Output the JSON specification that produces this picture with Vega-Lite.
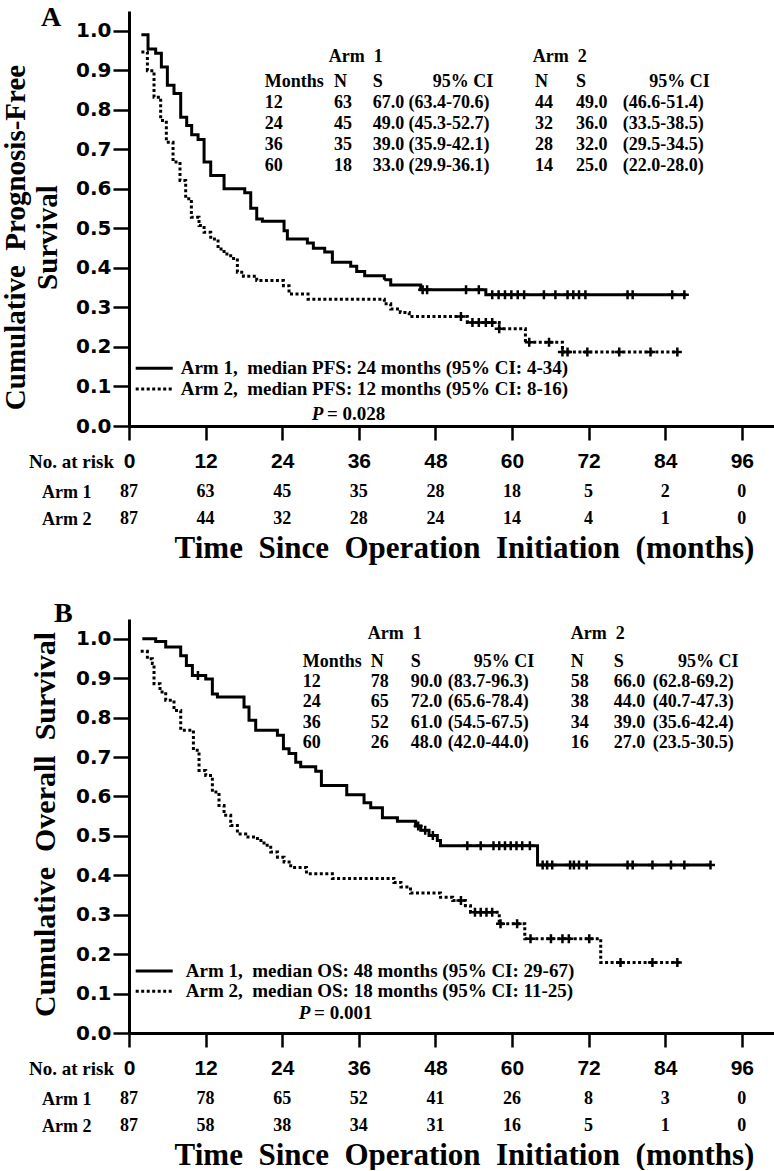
{
"$schema": "https://vega.github.io/schema/vega-lite/v6.json",
"background": "white",
"padding": {"left": 0, "top": 4, "right": 0, "bottom": 0},
"autosize": {"type": "pad"},
"config": {
  "view": {"stroke": null},
  "axis": {"grid": false, "domainColor": "black", "tickColor": "black", "labelColor": "black", "titleColor": "black"},
  "text": {"font": "Liberation Serif", "fontWeight": "bold", "fontSize": 18, "align": "left", "baseline": "middle", "color": "black"}
},
"datasets": {
  "km": [
    {"panel":"A","arm":"Arm 1","month":1.94,"surv":0.990},{"panel":"A","arm":"Arm 1","month":2.98,"surv":0.954},{"panel":"A","arm":"Arm 1","month":4.18,"surv":0.943},{"panel":"A","arm":"Arm 1","month":5.07,"surv":0.908},{"panel":"A","arm":"Arm 1","month":6.01,"surv":0.862},{"panel":"A","arm":"Arm 1","month":7.05,"surv":0.841},{"panel":"A","arm":"Arm 1","month":8.10,"surv":0.781},{"panel":"A","arm":"Arm 1","month":9.04,"surv":0.760},{"panel":"A","arm":"Arm 1","month":9.82,"surv":0.737},{"panel":"A","arm":"Arm 1","month":10.82,"surv":0.725},{"panel":"A","arm":"Arm 1","month":11.76,"surv":0.668},{"panel":"A","arm":"Arm 1","month":12.80,"surv":0.634},{"panel":"A","arm":"Arm 1","month":14.89,"surv":0.600},{"panel":"A","arm":"Arm 1","month":18.13,"surv":0.590},{"panel":"A","arm":"Arm 1","month":19.07,"surv":0.551},{"panel":"A","arm":"Arm 1","month":20.01,"surv":0.524},{"panel":"A","arm":"Arm 1","month":20.89,"surv":0.518},{"panel":"A","arm":"Arm 1","month":24.29,"surv":0.494},{"panel":"A","arm":"Arm 1","month":24.81,"surv":0.473},{"panel":"A","arm":"Arm 1","month":27.94,"surv":0.463},{"panel":"A","arm":"Arm 1","month":28.88,"surv":0.450},{"panel":"A","arm":"Arm 1","month":30.66,"surv":0.440},{"panel":"A","arm":"Arm 1","month":31.86,"surv":0.414},{"panel":"A","arm":"Arm 1","month":34.73,"surv":0.404},{"panel":"A","arm":"Arm 1","month":35.67,"surv":0.391},{"panel":"A","arm":"Arm 1","month":36.92,"surv":0.380},{"panel":"A","arm":"Arm 1","month":40.0,"surv":0.370},{"panel":"A","arm":"Arm 1","month":41.0,"surv":0.357},{"panel":"A","arm":"Arm 1","month":45.7,"surv":0.345},{"panel":"A","arm":"Arm 1","month":55.9,"surv":0.332},{"panel":"A","arm":"Arm 1","month":87.3,"surv":0.332},
    {"panel":"A","arm":"Arm 2","month":1.94,"surv":0.946},{"panel":"A","arm":"Arm 2","month":2.88,"surv":0.899},{"panel":"A","arm":"Arm 2","month":3.92,"surv":0.832},{"panel":"A","arm":"Arm 2","month":4.96,"surv":0.773},{"panel":"A","arm":"Arm 2","month":5.85,"surv":0.718},{"panel":"A","arm":"Arm 2","month":6.9,"surv":0.668},{"panel":"A","arm":"Arm 2","month":7.99,"surv":0.621},{"panel":"A","arm":"Arm 2","month":8.88,"surv":0.575},{"panel":"A","arm":"Arm 2","month":9.77,"surv":0.528},{"panel":"A","arm":"Arm 2","month":10.97,"surv":0.507},{"panel":"A","arm":"Arm 2","month":11.76,"surv":0.490},{"panel":"A","arm":"Arm 2","month":12.80,"surv":0.473},{"panel":"A","arm":"Arm 2","month":13.95,"surv":0.448},{"panel":"A","arm":"Arm 2","month":14.89,"surv":0.435},{"panel":"A","arm":"Arm 2","month":15.93,"surv":0.424},{"panel":"A","arm":"Arm 2","month":16.98,"surv":0.389},{"panel":"A","arm":"Arm 2","month":17.92,"surv":0.379},{"panel":"A","arm":"Arm 2","month":20.01,"surv":0.368},{"panel":"A","arm":"Arm 2","month":24.19,"surv":0.355},{"panel":"A","arm":"Arm 2","month":25.07,"surv":0.334},{"panel":"A","arm":"Arm 2","month":28.05,"surv":0.321},{"panel":"A","arm":"Arm 2","month":40.0,"surv":0.309},{"panel":"A","arm":"Arm 2","month":41.0,"surv":0.296},{"panel":"A","arm":"Arm 2","month":42.5,"surv":0.287},{"panel":"A","arm":"Arm 2","month":43.9,"surv":0.277},{"panel":"A","arm":"Arm 2","month":53.0,"surv":0.262},{"panel":"A","arm":"Arm 2","month":58.0,"surv":0.246},{"panel":"A","arm":"Arm 2","month":62.1,"surv":0.212},{"panel":"A","arm":"Arm 2","month":67.9,"surv":0.187},{"panel":"A","arm":"Arm 2","month":85.9,"surv":0.187},
    {"panel":"B","arm":"Arm 1","month":2.09,"surv":1.0},{"panel":"B","arm":"Arm 1","month":4.18,"surv":0.993},{"panel":"B","arm":"Arm 1","month":5.75,"surv":0.979},{"panel":"B","arm":"Arm 1","month":8.10,"surv":0.957},{"panel":"B","arm":"Arm 1","month":8.99,"surv":0.932},{"panel":"B","arm":"Arm 1","month":9.93,"surv":0.907},{"panel":"B","arm":"Arm 1","month":12.02,"surv":0.898},{"panel":"B","arm":"Arm 1","month":13.06,"surv":0.860},{"panel":"B","arm":"Arm 1","month":13.85,"surv":0.852},{"panel":"B","arm":"Arm 1","month":18.02,"surv":0.827},{"panel":"B","arm":"Arm 1","month":18.80,"surv":0.793},{"panel":"B","arm":"Arm 1","month":19.85,"surv":0.768},{"panel":"B","arm":"Arm 1","month":23.25,"surv":0.755},{"panel":"B","arm":"Arm 1","month":24.19,"surv":0.721},{"panel":"B","arm":"Arm 1","month":25.07,"surv":0.709},{"panel":"B","arm":"Arm 1","month":26.12,"surv":0.687},{"panel":"B","arm":"Arm 1","month":26.90,"surv":0.675},{"panel":"B","arm":"Arm 1","month":29.25,"surv":0.664},{"panel":"B","arm":"Arm 1","month":30.14,"surv":0.628},{"panel":"B","arm":"Arm 1","month":34.11,"surv":0.604},{"panel":"B","arm":"Arm 1","month":36.82,"surv":0.584},{"panel":"B","arm":"Arm 1","month":37.87,"surv":0.571},{"panel":"B","arm":"Arm 1","month":39.7,"surv":0.546},{"panel":"B","arm":"Arm 1","month":42.05,"surv":0.537},{"panel":"B","arm":"Arm 1","month":44.9,"surv":0.525},{"panel":"B","arm":"Arm 1","month":45.7,"surv":0.514},{"panel":"B","arm":"Arm 1","month":47.0,"surv":0.501},{"panel":"B","arm":"Arm 1","month":48.3,"surv":0.488},{"panel":"B","arm":"Arm 1","month":48.8,"surv":0.475},{"panel":"B","arm":"Arm 1","month":64.0,"surv":0.426},{"panel":"B","arm":"Arm 1","month":91.1,"surv":0.426},
    {"panel":"B","arm":"Arm 2","month":1.83,"surv":0.968},{"panel":"B","arm":"Arm 2","month":2.88,"surv":0.949},{"panel":"B","arm":"Arm 2","month":3.66,"surv":0.937},{"panel":"B","arm":"Arm 2","month":3.92,"surv":0.886},{"panel":"B","arm":"Arm 2","month":4.86,"surv":0.865},{"panel":"B","arm":"Arm 2","month":5.75,"surv":0.844},{"panel":"B","arm":"Arm 2","month":7.05,"surv":0.818},{"panel":"B","arm":"Arm 2","month":8.10,"surv":0.768},{"panel":"B","arm":"Arm 2","month":10.09,"surv":0.717},{"panel":"B","arm":"Arm 2","month":10.97,"surv":0.666},{"panel":"B","arm":"Arm 2","month":12.02,"surv":0.653},{"panel":"B","arm":"Arm 2","month":13.06,"surv":0.611},{"panel":"B","arm":"Arm 2","month":14.10,"surv":0.577},{"panel":"B","arm":"Arm 2","month":14.89,"surv":0.552},{"panel":"B","arm":"Arm 2","month":15.93,"surv":0.526},{"panel":"B","arm":"Arm 2","month":16.98,"surv":0.505},{"panel":"B","arm":"Arm 2","month":18.28,"surv":0.497},{"panel":"B","arm":"Arm 2","month":20.12,"surv":0.488},{"panel":"B","arm":"Arm 2","month":21.15,"surv":0.476},{"panel":"B","arm":"Arm 2","month":22.20,"surv":0.459},{"panel":"B","arm":"Arm 2","month":23.25,"surv":0.446},{"panel":"B","arm":"Arm 2","month":24.29,"surv":0.434},{"panel":"B","arm":"Arm 2","month":25.33,"surv":0.420},{"panel":"B","arm":"Arm 2","month":27.8,"surv":0.404},{"panel":"B","arm":"Arm 2","month":31.86,"surv":0.392},{"panel":"B","arm":"Arm 2","month":41.5,"surv":0.382},{"panel":"B","arm":"Arm 2","month":42.6,"surv":0.370},{"panel":"B","arm":"Arm 2","month":44.1,"surv":0.355},{"panel":"B","arm":"Arm 2","month":48.8,"surv":0.344},{"panel":"B","arm":"Arm 2","month":50.7,"surv":0.336},{"panel":"B","arm":"Arm 2","month":52.7,"surv":0.323},{"panel":"B","arm":"Arm 2","month":53.5,"surv":0.306},{"panel":"B","arm":"Arm 2","month":58.0,"surv":0.277},{"panel":"B","arm":"Arm 2","month":62.0,"surv":0.239},{"panel":"B","arm":"Arm 2","month":73.9,"surv":0.179},{"panel":"B","arm":"Arm 2","month":86.4,"surv":0.179}
  ],
  "cens": [
    {"panel":"A","arm":"Arm 1","month":46.0,"surv":0.345},{"panel":"A","arm":"Arm 1","month":46.7,"surv":0.345},{"panel":"A","arm":"Arm 1","month":52.8,"surv":0.345},{"panel":"A","arm":"Arm 1","month":54.8,"surv":0.345},
    {"panel":"A","arm":"Arm 1","month":56.9,"surv":0.332},{"panel":"A","arm":"Arm 1","month":57.9,"surv":0.332},{"panel":"A","arm":"Arm 1","month":58.9,"surv":0.332},{"panel":"A","arm":"Arm 1","month":59.9,"surv":0.332},{"panel":"A","arm":"Arm 1","month":60.9,"surv":0.332},{"panel":"A","arm":"Arm 1","month":61.9,"surv":0.332},{"panel":"A","arm":"Arm 1","month":65.0,"surv":0.332},{"panel":"A","arm":"Arm 1","month":66.8,"surv":0.332},{"panel":"A","arm":"Arm 1","month":68.7,"surv":0.332},{"panel":"A","arm":"Arm 1","month":69.6,"surv":0.332},{"panel":"A","arm":"Arm 1","month":70.5,"surv":0.332},{"panel":"A","arm":"Arm 1","month":71.5,"surv":0.332},{"panel":"A","arm":"Arm 1","month":78.1,"surv":0.332},{"panel":"A","arm":"Arm 1","month":78.9,"surv":0.332},{"panel":"A","arm":"Arm 1","month":85.1,"surv":0.332},{"panel":"A","arm":"Arm 1","month":87.0,"surv":0.332},
    {"panel":"A","arm":"Arm 2","month":52.0,"surv":0.277},{"panel":"A","arm":"Arm 2","month":53.8,"surv":0.262},{"panel":"A","arm":"Arm 2","month":54.8,"surv":0.262},{"panel":"A","arm":"Arm 2","month":55.9,"surv":0.262},{"panel":"A","arm":"Arm 2","month":56.9,"surv":0.262},{"panel":"A","arm":"Arm 2","month":58.0,"surv":0.246},{"panel":"A","arm":"Arm 2","month":62.7,"surv":0.212},{"panel":"A","arm":"Arm 2","month":65.8,"surv":0.212},{"panel":"A","arm":"Arm 2","month":67.9,"surv":0.187},{"panel":"A","arm":"Arm 2","month":68.7,"surv":0.187},{"panel":"A","arm":"Arm 2","month":71.8,"surv":0.187},{"panel":"A","arm":"Arm 2","month":76.8,"surv":0.187},{"panel":"A","arm":"Arm 2","month":81.7,"surv":0.187},{"panel":"A","arm":"Arm 2","month":85.9,"surv":0.187},
    {"panel":"B","arm":"Arm 1","month":10.8,"surv":0.907},{"panel":"B","arm":"Arm 1","month":45.3,"surv":0.525},{"panel":"B","arm":"Arm 1","month":46.4,"surv":0.514},{"panel":"B","arm":"Arm 1","month":47.6,"surv":0.501},
    {"panel":"B","arm":"Arm 1","month":53.0,"surv":0.475},{"panel":"B","arm":"Arm 1","month":55.1,"surv":0.475},{"panel":"B","arm":"Arm 1","month":57.1,"surv":0.475},{"panel":"B","arm":"Arm 1","month":58.0,"surv":0.475},{"panel":"B","arm":"Arm 1","month":58.9,"surv":0.475},{"panel":"B","arm":"Arm 1","month":59.8,"surv":0.475},{"panel":"B","arm":"Arm 1","month":60.7,"surv":0.475},{"panel":"B","arm":"Arm 1","month":61.6,"surv":0.475},{"panel":"B","arm":"Arm 1","month":62.8,"surv":0.475},
    {"panel":"B","arm":"Arm 1","month":64.8,"surv":0.426},{"panel":"B","arm":"Arm 1","month":65.5,"surv":0.426},{"panel":"B","arm":"Arm 1","month":66.3,"surv":0.426},{"panel":"B","arm":"Arm 1","month":69.1,"surv":0.426},{"panel":"B","arm":"Arm 1","month":69.7,"surv":0.426},{"panel":"B","arm":"Arm 1","month":70.5,"surv":0.426},{"panel":"B","arm":"Arm 1","month":71.7,"surv":0.426},{"panel":"B","arm":"Arm 1","month":78.1,"surv":0.426},{"panel":"B","arm":"Arm 1","month":78.9,"surv":0.426},{"panel":"B","arm":"Arm 1","month":82.0,"surv":0.426},{"panel":"B","arm":"Arm 1","month":84.9,"surv":0.426},{"panel":"B","arm":"Arm 1","month":87.0,"surv":0.426},{"panel":"B","arm":"Arm 1","month":91.1,"surv":0.426},
    {"panel":"B","arm":"Arm 2","month":52.0,"surv":0.336},{"panel":"B","arm":"Arm 2","month":54.2,"surv":0.306},{"panel":"B","arm":"Arm 2","month":55.1,"surv":0.306},{"panel":"B","arm":"Arm 2","month":56.0,"surv":0.306},{"panel":"B","arm":"Arm 2","month":56.9,"surv":0.306},{"panel":"B","arm":"Arm 2","month":58.2,"surv":0.277},{"panel":"B","arm":"Arm 2","month":60.8,"surv":0.277},{"panel":"B","arm":"Arm 2","month":62.9,"surv":0.239},{"panel":"B","arm":"Arm 2","month":66.1,"surv":0.239},{"panel":"B","arm":"Arm 2","month":67.9,"surv":0.239},{"panel":"B","arm":"Arm 2","month":68.9,"surv":0.239},{"panel":"B","arm":"Arm 2","month":72.1,"surv":0.239},{"panel":"B","arm":"Arm 2","month":77.0,"surv":0.179},{"panel":"B","arm":"Arm 2","month":82.0,"surv":0.179},{"panel":"B","arm":"Arm 2","month":85.9,"surv":0.179}
  ],
  "risk": [
    {"panel":"A","arm":"Arm 1","month":0,"n":87},{"panel":"A","arm":"Arm 1","month":12,"n":63},{"panel":"A","arm":"Arm 1","month":24,"n":45},{"panel":"A","arm":"Arm 1","month":36,"n":35},{"panel":"A","arm":"Arm 1","month":48,"n":28},{"panel":"A","arm":"Arm 1","month":60,"n":18},{"panel":"A","arm":"Arm 1","month":72,"n":5},{"panel":"A","arm":"Arm 1","month":84,"n":2},{"panel":"A","arm":"Arm 1","month":96,"n":0},
    {"panel":"A","arm":"Arm 2","month":0,"n":87},{"panel":"A","arm":"Arm 2","month":12,"n":44},{"panel":"A","arm":"Arm 2","month":24,"n":32},{"panel":"A","arm":"Arm 2","month":36,"n":28},{"panel":"A","arm":"Arm 2","month":48,"n":24},{"panel":"A","arm":"Arm 2","month":60,"n":14},{"panel":"A","arm":"Arm 2","month":72,"n":4},{"panel":"A","arm":"Arm 2","month":84,"n":1},{"panel":"A","arm":"Arm 2","month":96,"n":0},
    {"panel":"B","arm":"Arm 1","month":0,"n":87},{"panel":"B","arm":"Arm 1","month":12,"n":78},{"panel":"B","arm":"Arm 1","month":24,"n":65},{"panel":"B","arm":"Arm 1","month":36,"n":52},{"panel":"B","arm":"Arm 1","month":48,"n":41},{"panel":"B","arm":"Arm 1","month":60,"n":26},{"panel":"B","arm":"Arm 1","month":72,"n":8},{"panel":"B","arm":"Arm 1","month":84,"n":3},{"panel":"B","arm":"Arm 1","month":96,"n":0},
    {"panel":"B","arm":"Arm 2","month":0,"n":87},{"panel":"B","arm":"Arm 2","month":12,"n":58},{"panel":"B","arm":"Arm 2","month":24,"n":38},{"panel":"B","arm":"Arm 2","month":36,"n":34},{"panel":"B","arm":"Arm 2","month":48,"n":31},{"panel":"B","arm":"Arm 2","month":60,"n":16},{"panel":"B","arm":"Arm 2","month":72,"n":5},{"panel":"B","arm":"Arm 2","month":84,"n":1},{"panel":"B","arm":"Arm 2","month":96,"n":0}
  ],
  "tab": [
    {"panel":"A","line":"arm","Months":"","N1":"Arm\u00a0 1","S1":"","CI1":"","N2":"Arm\u00a0 2","S2":"","CI2":""},
    {"panel":"A","line":"hdr","Months":"Months","N1":"N","S1":"S","CI1":"95% CI","N2":"N","S2":"S","CI2":"95% CI"},
    {"panel":"A","line":"12","Months":"12","N1":"63","S1":"67.0","CI1":"(63.4-70.6)","N2":"44","S2":"49.0","CI2":"(46.6-51.4)"},
    {"panel":"A","line":"24","Months":"24","N1":"45","S1":"49.0","CI1":"(45.3-52.7)","N2":"32","S2":"36.0","CI2":"(33.5-38.5)"},
    {"panel":"A","line":"36","Months":"36","N1":"35","S1":"39.0","CI1":"(35.9-42.1)","N2":"28","S2":"32.0","CI2":"(29.5-34.5)"},
    {"panel":"A","line":"60","Months":"60","N1":"18","S1":"33.0","CI1":"(29.9-36.1)","N2":"14","S2":"25.0","CI2":"(22.0-28.0)"},
    {"panel":"B","line":"arm","Months":"","N1":"Arm\u00a0 1","S1":"","CI1":"","N2":"Arm\u00a0 2","S2":"","CI2":""},
    {"panel":"B","line":"hdr","Months":"Months","N1":"N","S1":"S","CI1":"95% CI","N2":"N","S2":"S","CI2":"95% CI"},
    {"panel":"B","line":"12","Months":"12","N1":"78","S1":"90.0","CI1":"(83.7-96.3)","N2":"58","S2":"66.0","CI2":"(62.8-69.2)"},
    {"panel":"B","line":"24","Months":"24","N1":"65","S1":"72.0","CI1":"(65.6-78.4)","N2":"38","S2":"44.0","CI2":"(40.7-47.3)"},
    {"panel":"B","line":"36","Months":"36","N1":"52","S1":"61.0","CI1":"(54.5-67.5)","N2":"34","S2":"39.0","CI2":"(35.6-42.4)"},
    {"panel":"B","line":"60","Months":"60","N1":"26","S1":"48.0","CI1":"(42.0-44.0)","N2":"16","S2":"27.0","CI2":"(23.5-30.5)"}
  ],
  "leg": [
    {"panel":"A","line":"leg1","arm":"Arm 1","label":"Arm 1,\u00a0 median PFS: 24 months (95% CI: 4-34)"},
    {"panel":"A","line":"leg2","arm":"Arm 2","label":"Arm 2,\u00a0 median PFS: 12 months (95% CI: 8-16)"},
    {"panel":"A","line":"p","arm":"","label":"= 0.028"},
    {"panel":"B","line":"leg1","arm":"Arm 1","label":"Arm 1,\u00a0 median OS: 48 months (95% CI: 29-67)"},
    {"panel":"B","line":"leg2","arm":"Arm 2","label":"Arm 2,\u00a0 median OS: 18 months (95% CI: 11-25)"},
    {"panel":"B","line":"p","arm":"","label":"= 0.001"}
  ]
},
"bounds": "flush",
"spacing": 56,
"vconcat": [
   {
    "width": 646, "height": 415,
    "layer": [
     {
      "encoding": {
       "x": {"field": "month", "type": "quantitative", "scale": {"domain": [0, 101.2], "nice": false, "zero": false},
             "axis": {"values": [0,12,24,36,48,60,72,84,96], "format": "d", "labelFont": "Liberation Sans", "labelFontWeight": "bold", "labelFontSize": 21, "labelPadding": 10, "labelFlush": false, "labelOverlap": false, "tickSize": 14, "tickWidth": 2.5, "domainWidth": 3,
                      "title": "No. at risk", "titleFont": "Liberation Serif", "titleFontSize": 19, "titleFontWeight": "bold", "titleAngle": 0, "titleAlign": "center", "titleBaseline": "middle", "titleX": -58, "titleY": 35}},
       "y": {"field": "surv", "type": "quantitative", "scale": {"domain": [0, 1.05], "nice": false, "zero": false},
             "axis": {"values": [0,0.1,0.2,0.3,0.4,0.5,0.6,0.7,0.8,0.9,1.0], "format": ".1f", "labelFont": "DejaVu Sans", "labelFontWeight": "bold", "labelFontSize": 20, "labelPadding": 2, "labelFlush": false, "labelOverlap": false, "tickSize": 16, "tickWidth": 2.5, "domainWidth": 3,
                      "title": ["Cumulative\u00a0 Prognosis-Free", "Survival"], "titleFont": "Liberation Serif", "titleFontSize": 29, "titleFontWeight": "bold", "titleLineHeight": 32, "titleAngle": -90, "titleAlign": "center", "titleBaseline": "bottom", "titleX": -99, "titleY": 226}}
      },
      "layer": [
       {"data": {"name": "km"}, "transform": [{"filter": "datum.panel === 'A'"}],
        "mark": {"type": "line", "interpolate": "step-after", "strokeWidth": 3, "color": "black"},
        "encoding": {"strokeDash": {"field": "arm", "type": "nominal", "scale": {"domain": ["Arm 1", "Arm 2"], "range": [[1, 0], [3, 2.5]]}, "legend": null}}},
       {"data": {"name": "cens"}, "transform": [{"filter": "datum.panel === 'A'"}],
        "mark": {"type": "point", "shape": "M0,-1L0,1M-1,0L1,0", "size": 81, "filled": false, "strokeWidth": 2.5, "color": "black", "opacity": 1}}
      ]
     },
     {
      "encoding": {"y": {"field": "line", "type": "ordinal", "scale": {"type": "point", "padding": 0.49, "domain": ["t0","t1","arm","hdr","12","24","36","60","t8","t9","t10","t11","t12","t13","t14","t15","t16","leg1","leg2","p"]}, "axis": null}},
      "layer": [
       {"data": {"name": "tab"}, "transform": [{"filter": "datum.panel === 'A' && datum.line === 'arm'"}], "mark": {"type": "text", "fontSize": 28, "dy": -3}, "encoding": {"x": {"datum": -13.79}, "y": {"datum": "t0"}, "text": {"value": "A"}}},
       {"data": {"name": "tab"}, "transform": [{"filter": "datum.panel === 'A' && datum.line !== 'arm'"}], "mark": {"type": "text", "dy": -1}, "encoding": {"x": {"datum": 21.26}, "text": {"field": "Months"}}},
       {"data": {"name": "tab"}, "transform": [{"filter": "datum.panel === 'A' && datum.line !== 'arm'"}], "mark": {"type": "text", "dy": -1}, "encoding": {"x": {"datum": 32.10}, "text": {"field": "N1"}}},
       {"data": {"name": "tab"}, "transform": [{"filter": "datum.panel === 'A' && datum.line !== 'arm'"}], "mark": {"type": "text", "dy": -1}, "encoding": {"x": {"datum": 38.2}, "text": {"field": "S1"}}},
       {"data": {"name": "tab"}, "transform": [{"filter": "datum.panel === 'A' && datum.line !== 'arm' && datum.line !== 'hdr'"}], "mark": {"type": "text", "dy": -1}, "encoding": {"x": {"datum": 43.8}, "text": {"field": "CI1"}}},
       {"data": {"name": "tab"}, "transform": [{"filter": "datum.panel === 'A' && datum.line === 'hdr'"}], "mark": {"type": "text", "dy": -1}, "encoding": {"x": {"datum": 47.6}, "text": {"field": "CI1"}}},
       {"data": {"name": "tab"}, "transform": [{"filter": "datum.panel === 'A' && datum.line !== 'arm'"}], "mark": {"type": "text", "dy": -1}, "encoding": {"x": {"datum": 63.59}, "text": {"field": "N2"}}},
       {"data": {"name": "tab"}, "transform": [{"filter": "datum.panel === 'A' && datum.line !== 'arm'"}], "mark": {"type": "text", "dy": -1}, "encoding": {"x": {"datum": 70.01}, "text": {"field": "S2"}}},
       {"data": {"name": "tab"}, "transform": [{"filter": "datum.panel === 'A' && datum.line !== 'arm' && datum.line !== 'hdr'"}], "mark": {"type": "text", "dy": -1}, "encoding": {"x": {"datum": 77.35}, "text": {"field": "CI2"}}},
       {"data": {"name": "tab"}, "transform": [{"filter": "datum.panel === 'A' && datum.line === 'hdr'"}], "mark": {"type": "text", "dy": -1}, "encoding": {"x": {"datum": 81.5}, "text": {"field": "CI2"}}},
       {"data": {"name": "tab"}, "transform": [{"filter": "datum.panel === 'A' && datum.line === 'arm'"}], "mark": {"type": "text", "dy": -6}, "encoding": {"x": {"datum": 31.29}, "text": {"field": "N1"}}},
       {"data": {"name": "tab"}, "transform": [{"filter": "datum.panel === 'A' && datum.line === 'arm'"}], "mark": {"type": "text", "dy": -6}, "encoding": {"x": {"datum": 63.25}, "text": {"field": "N2"}}},
       {"data": {"name": "leg"}, "transform": [{"filter": "datum.panel === 'A' && datum.line !== 'p'"}], "mark": {"type": "rule", "strokeWidth": 3, "color": "black", "yOffset": -6},
        "encoding": {"x": {"datum": 1.05}, "x2": {"datum": 6.85}, "strokeDash": {"field": "arm", "type": "nominal", "scale": {"domain": ["Arm 1", "Arm 2"], "range": [[1, 0], [3, 2.5]]}, "legend": null}}},
       {"data": {"name": "leg"}, "transform": [{"filter": "datum.panel === 'A' && datum.line !== 'p'"}], "mark": {"type": "text", "fontSize": 19, "dy": -6}, "encoding": {"x": {"datum": 8.1}, "text": {"field": "label"}}},
       {"data": {"name": "leg"}, "transform": [{"filter": "datum.panel === 'A' && datum.line === 'p'"}], "mark": {"type": "text", "fontSize": 19, "fontStyle": "italic", "dy": -2}, "encoding": {"x": {"datum": 28.64}, "text": {"value": "P"}}},
       {"data": {"name": "leg"}, "transform": [{"filter": "datum.panel === 'A' && datum.line === 'p'"}], "mark": {"type": "text", "fontSize": 19, "dy": -2}, "encoding": {"x": {"datum": 31.0}, "text": {"field": "label"}}}
      ]
     }
    ],
    "resolve": {"scale": {"y": "independent"}}
   },
   {
    "width": 646, "height": 81,
    "data": {"name": "risk"},
    "transform": [{"filter": "datum.panel === 'A'"}],
    "mark": {"type": "text", "align": "center", "fontSize": 18, "dy": -17},
    "encoding": {
     "x": {"field": "month", "type": "quantitative", "scale": {"domain": [0, 101.2], "nice": false, "zero": false},
           "axis": {"domain": false, "ticks": false, "labels": false, "tickSize": 0, "title": "Time\u00a0 Since\u00a0 Operation\u00a0 Initiation\u00a0 (months)", "titleFont": "Liberation Serif", "titleFontSize": 31, "titleFontWeight": "bold", "titleAngle": 0, "titleAlign": "center", "titleBaseline": "middle", "titleX": 335, "titleY": -15}},
     "y": {"field": "arm", "type": "nominal", "scale": {"type": "point", "domain": ["Arm 1", "Arm 2"], "padding": 1.26},
           "axis": {"title": null, "domain": false, "ticks": false, "tickSize": 0, "labelPadding": 38, "labelOffset": -17, "labelFont": "Liberation Serif", "labelFontSize": 18, "labelFontWeight": "bold"}},
     "text": {"field": "n"}
    }
   },
   {
    "width": 646, "height": 414,
    "layer": [
     {
      "encoding": {
       "x": {"field": "month", "type": "quantitative", "scale": {"domain": [0, 101.2], "nice": false, "zero": false},
             "axis": {"values": [0,12,24,36,48,60,72,84,96], "format": "d", "labelFont": "Liberation Sans", "labelFontWeight": "bold", "labelFontSize": 21, "labelPadding": 10, "labelFlush": false, "labelOverlap": false, "tickSize": 14, "tickWidth": 2.5, "domainWidth": 3,
                      "title": "No. at risk", "titleFont": "Liberation Serif", "titleFontSize": 19, "titleFontWeight": "bold", "titleAngle": 0, "titleAlign": "center", "titleBaseline": "middle", "titleX": -58, "titleY": 35}},
       "y": {"field": "surv", "type": "quantitative", "scale": {"domain": [0, 1.05], "nice": false, "zero": false},
             "axis": {"values": [0,0.1,0.2,0.3,0.4,0.5,0.6,0.7,0.8,0.9,1.0], "format": ".1f", "labelFont": "DejaVu Sans", "labelFontWeight": "bold", "labelFontSize": 20, "labelPadding": 2, "labelFlush": false, "labelOverlap": false, "tickSize": 16, "tickWidth": 2.5, "domainWidth": 3,
                      "title": "Cumulative\u00a0 Overall\u00a0 Survival", "titleFont": "Liberation Serif", "titleFontSize": 30, "titleFontWeight": "bold", "titleAngle": -90, "titleAlign": "center", "titleBaseline": "bottom", "titleX": -69, "titleY": 205}}
      },
      "layer": [
       {"data": {"name": "km"}, "transform": [{"filter": "datum.panel === 'B'"}],
        "mark": {"type": "line", "interpolate": "step-after", "strokeWidth": 3, "color": "black"},
        "encoding": {"strokeDash": {"field": "arm", "type": "nominal", "scale": {"domain": ["Arm 1", "Arm 2"], "range": [[1, 0], [3, 2.5]]}, "legend": null}}},
       {"data": {"name": "cens"}, "transform": [{"filter": "datum.panel === 'B'"}],
        "mark": {"type": "point", "shape": "M0,-1L0,1M-1,0L1,0", "size": 81, "filled": false, "strokeWidth": 2.5, "color": "black", "opacity": 1}}
      ]
     },
     {
      "encoding": {"y": {"field": "line", "type": "ordinal", "scale": {"type": "point", "padding": 0.2, "domain": ["u0","arm","hdr","12","24","36","60","u7","u8","u9","u10","u11","u12","u13","u14","u15","u16","leg1","leg2","p","u20"]}, "axis": null}},
      "layer": [
       {"data": {"name": "tab"}, "transform": [{"filter": "datum.panel === 'B' && datum.line === 'arm'"}], "mark": {"type": "text", "fontSize": 28, "dy": -9}, "encoding": {"x": {"datum": -11.75}, "y": {"datum": "u0"}, "text": {"value": "B"}}},
       {"data": {"name": "tab"}, "transform": [{"filter": "datum.panel === 'B' && datum.line !== 'arm'"}], "mark": {"type": "text", "dy": -2}, "encoding": {"x": {"datum": 27.21}, "text": {"field": "Months"}}},
       {"data": {"name": "tab"}, "transform": [{"filter": "datum.panel === 'B' && datum.line !== 'arm'"}], "mark": {"type": "text", "dy": -2}, "encoding": {"x": {"datum": 37.87}, "text": {"field": "N1"}}},
       {"data": {"name": "tab"}, "transform": [{"filter": "datum.panel === 'B' && datum.line !== 'arm'"}], "mark": {"type": "text", "dy": -2}, "encoding": {"x": {"datum": 44.14}, "text": {"field": "S1"}}},
       {"data": {"name": "tab"}, "transform": [{"filter": "datum.panel === 'B' && datum.line !== 'arm' && datum.line !== 'hdr'"}], "mark": {"type": "text", "dy": -2}, "encoding": {"x": {"datum": 49.93}, "text": {"field": "CI1"}}},
       {"data": {"name": "tab"}, "transform": [{"filter": "datum.panel === 'B' && datum.line === 'hdr'"}], "mark": {"type": "text", "dy": -2}, "encoding": {"x": {"datum": 54.0}, "text": {"field": "CI1"}}},
       {"data": {"name": "tab"}, "transform": [{"filter": "datum.panel === 'B' && datum.line !== 'arm'"}], "mark": {"type": "text", "dy": -2}, "encoding": {"x": {"datum": 69.2}, "text": {"field": "N2"}}},
       {"data": {"name": "tab"}, "transform": [{"filter": "datum.panel === 'B' && datum.line !== 'arm'"}], "mark": {"type": "text", "dy": -2}, "encoding": {"x": {"datum": 75.94}, "text": {"field": "S2"}}},
       {"data": {"name": "tab"}, "transform": [{"filter": "datum.panel === 'B' && datum.line !== 'arm' && datum.line !== 'hdr'"}], "mark": {"type": "text", "dy": -2}, "encoding": {"x": {"datum": 82.04}, "text": {"field": "CI2"}}},
       {"data": {"name": "tab"}, "transform": [{"filter": "datum.panel === 'B' && datum.line === 'hdr'"}], "mark": {"type": "text", "dy": -2}, "encoding": {"x": {"datum": 86.0}, "text": {"field": "CI2"}}},
       {"data": {"name": "tab"}, "transform": [{"filter": "datum.panel === 'B' && datum.line === 'arm'"}], "mark": {"type": "text", "dy": -9}, "encoding": {"x": {"datum": 37.4}, "text": {"field": "N1"}}},
       {"data": {"name": "tab"}, "transform": [{"filter": "datum.panel === 'B' && datum.line === 'arm'"}], "mark": {"type": "text", "dy": -9}, "encoding": {"x": {"datum": 69.2}, "text": {"field": "N2"}}},
       {"data": {"name": "leg"}, "transform": [{"filter": "datum.panel === 'B' && datum.line !== 'p'"}], "mark": {"type": "rule", "strokeWidth": 3, "color": "black", "yOffset": 3},
        "encoding": {"x": {"datum": 1.05}, "x2": {"datum": 6.85}, "strokeDash": {"field": "arm", "type": "nominal", "scale": {"domain": ["Arm 1", "Arm 2"], "range": [[1, 0], [3, 2.5]]}, "legend": null}}},
       {"data": {"name": "leg"}, "transform": [{"filter": "datum.panel === 'B' && datum.line !== 'p'"}], "mark": {"type": "text", "fontSize": 19, "dy": 3}, "encoding": {"x": {"datum": 8.9}, "text": {"field": "label"}}},
       {"data": {"name": "leg"}, "transform": [{"filter": "datum.panel === 'B' && datum.line === 'p'"}], "mark": {"type": "text", "fontSize": 19, "fontStyle": "italic", "dy": 4}, "encoding": {"x": {"datum": 26.6}, "text": {"value": "P"}}},
       {"data": {"name": "leg"}, "transform": [{"filter": "datum.panel === 'B' && datum.line === 'p'"}], "mark": {"type": "text", "fontSize": 19, "dy": 4}, "encoding": {"x": {"datum": 29.0}, "text": {"field": "label"}}}
      ]
     }
    ],
    "resolve": {"scale": {"y": "independent"}}
   },
   {
    "width": 646, "height": 81,
    "data": {"name": "risk"},
    "transform": [{"filter": "datum.panel === 'B'"}],
    "mark": {"type": "text", "align": "center", "fontSize": 18, "dy": -17},
    "encoding": {
     "x": {"field": "month", "type": "quantitative", "scale": {"domain": [0, 101.2], "nice": false, "zero": false},
           "axis": {"domain": false, "ticks": false, "labels": false, "tickSize": 0, "title": "Time\u00a0 Since\u00a0 Operation\u00a0 Initiation\u00a0 (months)", "titleFont": "Liberation Serif", "titleFontSize": 31, "titleFontWeight": "bold", "titleAngle": 0, "titleAlign": "center", "titleBaseline": "middle", "titleX": 335, "titleY": -15}},
     "y": {"field": "arm", "type": "nominal", "scale": {"type": "point", "domain": ["Arm 1", "Arm 2"], "padding": 1.26},
           "axis": {"title": null, "domain": false, "ticks": false, "tickSize": 0, "labelPadding": 38, "labelOffset": -17, "labelFont": "Liberation Serif", "labelFontSize": 18, "labelFontWeight": "bold"}},
     "text": {"field": "n"}
    }
   }
]
}
